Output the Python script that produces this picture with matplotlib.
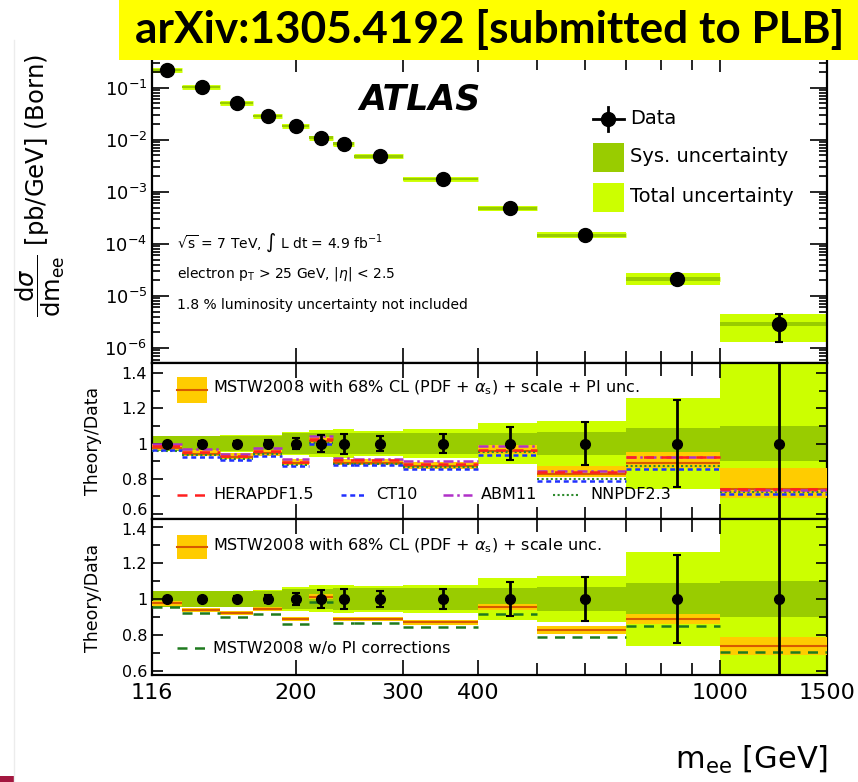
import numpy as np
import matplotlib
matplotlib.use("Agg")
import matplotlib.pyplot as plt
from matplotlib.patches import Rectangle
from matplotlib.lines import Line2D
from matplotlib.ticker import FixedLocator, NullFormatter, LogLocator, FuncFormatter

plt.rcParams["font.family"] = ["DejaVu Sans"]
plt.rcParams["mathtext.fontset"] = "dejavusans"

# ---------------- data ----------------
mass_edges = [116, 130, 150, 170, 190, 210, 230, 250, 300, 400, 500, 700, 1000, 1500]
xsec = [0.223, 0.104, 0.052, 0.029, 0.0185, 0.011, 0.0084, 0.0048, 0.00178,
        4.8e-4, 1.48e-4, 2.15e-5, 2.9e-6]
stat_rel = [0.010, 0.012, 0.015, 0.020, 0.033, 0.050, 0.057, 0.045, 0.053,
            0.095, 0.120, 0.245, 0.550]
sys_rel = [0.043, 0.043, 0.043, 0.045, 0.058, 0.058, 0.060, 0.060, 0.060,
           0.062, 0.065, 0.088, 0.100]
tot_rel = [0.045, 0.045, 0.046, 0.048, 0.065, 0.075, 0.080, 0.072, 0.080,
           0.115, 0.130, 0.260, 0.560]

mstw = [0.975, 0.940, 0.922, 0.944, 0.889, 1.013, 0.889, 0.889, 0.870,
        0.955, 0.830, 0.889, 0.741]
mstw_unc = [0.012, 0.012, 0.012, 0.012, 0.012, 0.013, 0.013, 0.013, 0.014,
            0.016, 0.022, 0.027, 0.050]
mstw_pi_up = [0.008, 0.010, 0.010, 0.010, 0.010, 0.010, 0.010, 0.010, 0.012,
              0.020, 0.020, 0.035, 0.070]
herapdf = [0.985, 0.950, 0.930, 0.955, 0.895, 1.025, 0.905, 0.905, 0.885,
           0.965, 0.840, 0.925, 0.742]
ct10 = [0.962, 0.925, 0.907, 0.930, 0.870, 0.998, 0.878, 0.877, 0.855,
        0.937, 0.785, 0.855, 0.714]
abm11 = [1.000, 0.968, 0.942, 0.972, 0.912, 1.045, 0.916, 0.915, 0.903,
         0.985, 0.845, 0.925, 0.735]
nnpdf = [0.960, 0.935, 0.915, 0.940, 0.880, 1.005, 0.885, 0.885, 0.865,
         0.950, 0.800, 0.875, 0.725]
mstw_no_pi = [0.957, 0.920, 0.900, 0.917, 0.861, 0.985, 0.865, 0.865, 0.843,
              0.917, 0.790, 0.852, 0.704]

xtick_labels = ["116", "200", "300", "400", "1000", "1500"]
ratio_ticks = [0.6, 0.8, 1.0, 1.2, 1.4]

# ---------------- style ----------------
LIGHT = "#ccff00"
DARK = "#99cc00"
ORANGE = "#ffcc00"
ORANGE_LINE = "#d85a00"
W, H = 858, 782
RATIO_LABEL_SIZE = 11.5

edges = np.array(mass_edges, dtype=float)
lo_e, hi_e = edges[:-1], edges[1:]
centers = 0.5 * (lo_e + hi_e)
xs = np.array(xsec)
stat = np.array(stat_rel)
sysr = np.array(sys_rel)
tot = np.array(tot_rel)

fig = plt.figure(figsize=(W / 100, H / 100), dpi=100)


def fx(px):
    return px / W


def fy(py):
    return 1 - py / H


left, right = 152, 827
ax1 = fig.add_axes([fx(left), fy(363), fx(right) - fx(left), fy(57) - fy(363)])
ax2 = fig.add_axes([fx(left), fy(519), fx(right) - fx(left), fy(363) - fy(519)])
ax3 = fig.add_axes([fx(left), fy(675), fx(right) - fx(left), fy(519) - fy(675)])

for ax in (ax1, ax2, ax3):
    ax.set_xscale("log")
    ax.set_xlim(116, 1500)
    ax.xaxis.set_major_locator(FixedLocator([200, 300, 400, 1000]))
    ax.xaxis.set_minor_locator(FixedLocator([500, 600, 700, 800, 900]))
    ax.xaxis.set_major_formatter(NullFormatter())
    ax.xaxis.set_minor_formatter(NullFormatter())
    ax.tick_params(which="both", direction="in", top=True, right=True, width=1.2)
    ax.tick_params(which="major", axis="x", length=11)
    ax.tick_params(which="minor", axis="x", length=9)
    for sp in ax.spines.values():
        sp.set_linewidth(1.6)

# ---------------- top panel ----------------
ax1.set_yscale("log")
ax1.set_ylim(5.15e-7, 0.39)
ax1.yaxis.set_major_locator(LogLocator(base=10, numticks=10))
ax1.yaxis.set_minor_locator(LogLocator(base=10, subs=np.arange(2, 10), numticks=20))
ax1.yaxis.set_minor_formatter(NullFormatter())
ax1.tick_params(which="major", axis="y", length=12, labelsize=13)
ax1.tick_params(which="minor", axis="y", length=6)

ax1.hlines(xs, lo_e, hi_e, color=LIGHT, lw=3.5, zorder=1)
ax1.hlines(xs, lo_e, hi_e, color=DARK, lw=1.2, zorder=1.1)
for i in range(len(xs)):
    ax1.fill_between([lo_e[i], hi_e[i]], xs[i] * (1 - tot[i]), xs[i] * (1 + tot[i]),
                     color=LIGHT, lw=0, zorder=2)
    ax1.fill_between([lo_e[i], hi_e[i]], xs[i] * (1 - sysr[i]), xs[i] * (1 + sysr[i]),
                     color=DARK, lw=0, zorder=2.1)
ax1.errorbar(centers, xs, yerr=xs * stat, fmt="o", color="black", ms=10,
             elinewidth=2, capsize=3, capthick=1.5, zorder=5)


# ---------------- ratio panels ----------------
def ratio_base(ax, ylim, nudged):
    """Bands of the measurement; `nudged` maps a tick value to a vertical
    label offset in points (for labels that meet at the panel joint)."""
    ax.set_ylim(*ylim)
    ax.yaxis.set_major_locator(FixedLocator(ratio_ticks))
    ax.yaxis.set_minor_locator(FixedLocator([0.7, 0.9, 1.1, 1.3]))
    ax.yaxis.set_major_formatter(
        FuncFormatter(lambda v, p: "" if round(v, 2) in nudged else f"{v:g}"))
    ax.tick_params(which="major", axis="y", length=8, labelsize=RATIO_LABEL_SIZE)
    ax.tick_params(which="minor", axis="y", length=6)
    for v, dy in nudged.items():
        ax.annotate(f"{v:g}", xy=(0, v), xycoords=ax.get_yaxis_transform(),
                    xytext=(-3.5, dy), textcoords="offset points",
                    ha="right", va="center", fontsize=RATIO_LABEL_SIZE)
    for i in range(len(xs)):
        ax.fill_between([lo_e[i], hi_e[i]], 1 - tot[i], 1 + tot[i],
                        color=LIGHT, lw=0, zorder=1)
        ax.fill_between([lo_e[i], hi_e[i]], 1 - sysr[i], 1 + sysr[i],
                        color=DARK, lw=0, zorder=1.1)


def ratio_points(ax):
    ax.errorbar(centers, np.ones_like(centers), yerr=stat, fmt="o", color="black",
                ms=7, elinewidth=2, capsize=3, capthick=1.5, zorder=10)


m = np.array(mstw)
mu = np.array(mstw_unc)
mpi = np.array(mstw_pi_up)

ratio_base(ax2, (0.572, 1.457), {0.6: 2.5})
for i in range(len(m)):
    ax2.fill_between([lo_e[i], hi_e[i]], m[i] - mu[i], m[i] + mu[i] + mpi[i],
                     color=ORANGE, lw=0, zorder=3)
ax2.hlines(m, lo_e, hi_e, color=ORANGE_LINE, lw=1.5, zorder=4)
ax2.hlines(nnpdf, lo_e, hi_e, color="#2e8b2e", lw=1.5, linestyles=(0, (1, 1.2)), zorder=5)
ax2.hlines(abm11, lo_e, hi_e, color="#b030c8", lw=1.8, linestyles=(0, (4, 1.5, 1, 1.5)), zorder=5)
ax2.hlines(herapdf, lo_e, hi_e, color="#ff2020", lw=1.8, linestyles=(0, (4, 3)), zorder=5)
ax2.hlines(ct10, lo_e, hi_e, color="#2030ff", lw=1.8, linestyles=(0, (2, 1.5)), zorder=5)
ratio_points(ax2)

ratio_base(ax3, (0.578, 1.444), {1.4: -2.5})
for i in range(len(m)):
    ax3.fill_between([lo_e[i], hi_e[i]], m[i] - mu[i], m[i] + mu[i],
                     color=ORANGE, lw=0, zorder=3)
ax3.hlines(m, lo_e, hi_e, color=ORANGE_LINE, lw=1.5, zorder=4)
ax3.hlines(mstw_no_pi, lo_e, hi_e, color="#1f7a1f", lw=1.8, linestyles=(0, (4, 3)), zorder=5)
ratio_points(ax3)

ax3.set_xticks([116, 200, 300, 400, 1000, 1500], labels=xtick_labels, minor=False)
ax3.set_xlim(116, 1500)
ax3.tick_params(axis="x", which="major", labelsize=16, pad=6)
for t in ax3.get_xticklabels():
    t.set_horizontalalignment("center")

# ---------------- axis labels ----------------
fig.text(fx(40), fy(185), r"$\dfrac{\mathrm{d}\sigma}{\mathrm{dm_{ee}}}$ [pb/GeV] (Born)",
         rotation=90, ha="center", va="center", fontsize=17.5)
fig.text(fx(93), fy(441), "Theory/Data", rotation=90, ha="center", va="center", fontsize=12.5)
fig.text(fx(93), fy(598), "Theory/Data", rotation=90, ha="center", va="center", fontsize=12.5)
fig.text(fx(828), fy(760), r"m$_{\mathrm{ee}}$ [GeV]", ha="right", va="center", fontsize=22)

# ---------------- top panel texts and legend ----------------
fig.text(fx(420), fy(100), "ATLAS", fontsize=25, fontweight="bold", fontstyle="italic",
         ha="center", va="center")
fig.text(fx(177), fy(243), r"$\sqrt{\mathrm{s}}$ = 7 TeV, $\int$ L dt = 4.9 fb$^{-1}$",
         fontsize=10, ha="left", va="center")
fig.text(fx(177), fy(274), r"electron p$_\mathrm{T}$ > 25 GeV, |$\eta$| < 2.5",
         fontsize=10, ha="left", va="center")
fig.text(fx(177), fy(305), "1.8 % luminosity uncertainty not included",
         fontsize=10, ha="left", va="center")

fig.add_artist(Line2D([fx(593), fx(624)], [fy(119), fy(119)], color="black", lw=2))
fig.add_artist(Line2D([fx(608), fx(608)], [fy(107), fy(131)], color="black", lw=2))
fig.add_artist(Line2D([fx(608)], [fy(119)], marker="o", ms=10, color="black"))
fig.add_artist(Rectangle((fx(593), fy(172)), fx(624) - fx(593), fy(143) - fy(172),
                         color=DARK, lw=0))
fig.add_artist(Rectangle((fx(593), fy(212)), fx(624) - fx(593), fy(183) - fy(212),
                         color=LIGHT, lw=0))
fig.text(fx(630), fy(119), "Data", fontsize=14, va="center")
fig.text(fx(630), fy(157), "Sys. uncertainty", fontsize=14, va="center")
fig.text(fx(630), fy(197), "Total uncertainty", fontsize=14, va="center")

# ---------------- ratio legends ----------------
fig.add_artist(Rectangle((fx(177), fy(403)), fx(207) - fx(177), fy(377) - fy(403),
                         color=ORANGE, lw=0))
fig.add_artist(Line2D([fx(177), fx(207)], [fy(390), fy(390)], color=ORANGE_LINE, lw=1.5))
fig.text(fx(213), fy(388), r"MSTW2008 with 68% CL (PDF + $\alpha_\mathrm{s}$) + scale + PI unc.",
         fontsize=11.5, va="center")

fig.add_artist(Line2D([fx(177), fx(207)], [fy(495), fy(495)], color="#ff2020", lw=1.8,
                      linestyle=(0, (4, 3))))
fig.text(fx(213), fy(495), "HERAPDF1.5", fontsize=11.5, va="center")
fig.add_artist(Line2D([fx(341), fx(367)], [fy(495), fy(495)], color="#2030ff", lw=1.8,
                      linestyle=(0, (2, 1.5))))
fig.text(fx(376), fy(495), "CT10", fontsize=11.5, va="center")
fig.add_artist(Line2D([fx(443), fx(472)], [fy(495), fy(495)], color="#b030c8", lw=1.8,
                      linestyle=(0, (4, 1.5, 1, 1.5))))
fig.text(fx(481), fy(495), "ABM11", fontsize=11.5, va="center")
fig.add_artist(Line2D([fx(553), fx(578)], [fy(495), fy(495)], color="#2e8b2e", lw=1.5,
                      linestyle=(0, (1, 1.2))))
fig.text(fx(590), fy(495), "NNPDF2.3", fontsize=11.5, va="center")

fig.add_artist(Rectangle((fx(177), fy(559)), fx(207) - fx(177), fy(535) - fy(559),
                         color=ORANGE, lw=0))
fig.add_artist(Line2D([fx(177), fx(207)], [fy(547), fy(547)], color=ORANGE_LINE, lw=1.5))
fig.text(fx(213), fy(546), r"MSTW2008 with 68% CL (PDF + $\alpha_\mathrm{s}$) + scale unc.",
         fontsize=11.5, va="center")
fig.add_artist(Line2D([fx(177), fx(207)], [fy(648), fy(648)], color="#1f7a1f", lw=1.8,
                      linestyle=(0, (4, 3))))
fig.text(fx(213), fy(648), "MSTW2008 w/o PI corrections", fontsize=11.5, va="center")

# ---------------- slide decorations ----------------
fig.add_artist(Line2D([fx(14), fx(14)], [fy(40), fy(782)], color="#ececec", lw=1))
fig.add_artist(Rectangle((0, 0), fx(14), 1 - fy(6), color="#a3173f", lw=0))
fig.add_artist(Rectangle((fx(119), fy(60)), 1 - fx(119), 1 - fy(60), color="#ffff00",
                         lw=0, zorder=20))
banner = fig.text(fx(490), fy(30), "arXiv:1305.4192 [submitted to PLB]",
                  fontsize=28, fontweight="bold", family=["Lato", "DejaVu Sans"],
                  ha="center", va="center", zorder=21)
renderer = fig.canvas.get_renderer()
bw = banner.get_window_extent(renderer).width
banner.set_fontsize(28 * 709 / bw)

fig.savefig("out.png", dpi=100)
